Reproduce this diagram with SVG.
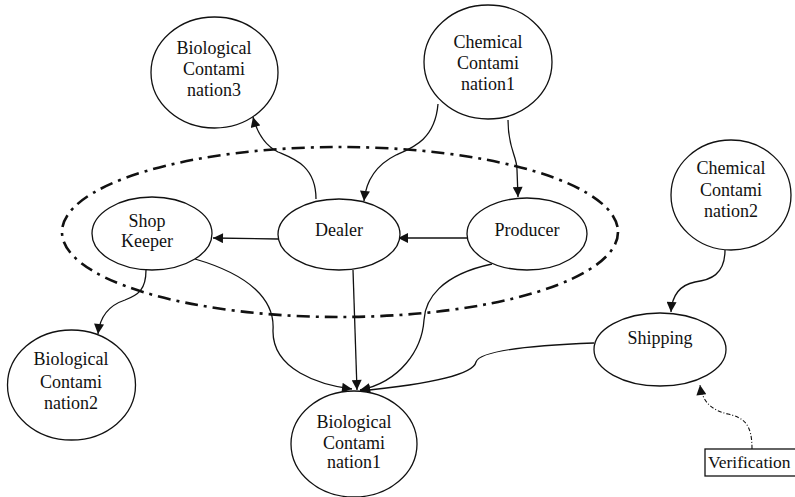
<svg xmlns="http://www.w3.org/2000/svg" width="795" height="497" viewBox="0 0 795 497">
<style>
.n{fill:#fff;stroke:#111;stroke-width:1.3}
.t{font-family:"Liberation Serif","Times New Roman",serif;font-size:18px;fill:#111;text-anchor:middle}
.c{fill:none;stroke:#111;stroke-width:1.3;marker-end:url(#ah)}
.group{fill:none;stroke:#111;stroke-width:2.6;stroke-dasharray:13 6 3 6}
</style>
<defs>
<marker id="ah" viewBox="0 0 10 10" refX="10" refY="5" markerWidth="11" markerHeight="10" markerUnits="userSpaceOnUse" orient="auto">
<path d="M0,0 L10,5 L0,10 z" fill="#111"/>
</marker>
</defs>
<rect width="795" height="497" fill="#fff"/>
<ellipse id="boundary" class="group" cx="340" cy="232" rx="278" ry="85"/>
<g id="connectors">
<path class="c" d="M316,199 C316,165 292,158 278,152 C264,145 257,132 253,117"/>
<path class="c" d="M438,104 C435,140 412,148 396,155 C376,165 366,180 364,201"/>
<path class="c" d="M508,120 C508,150 517,155 517,170 L518,197"/>
<path class="c" d="M278,239 L213,238"/>
<path class="c" d="M468,238 L398,238"/>
<path class="c" d="M146,270 C146,290 138,295 125,300 C110,305 100,315 98,334"/>
<path class="c" d="M195,259 C250,275 275,300 273,330 C272,370 320,385 352,389"/>
<path class="c" d="M353,270 L357,390"/>
<path class="c" d="M492,264 C440,275 425,300 424,320 C422,350 400,382 360,390"/>
<path class="c" d="M594,343 C540,345 480,350 476,362 C473,376 420,385 360,391"/>
<path class="c" d="M725,250 C725,275 710,280 695,282 C680,285 672,295 671,312"/>
<path class="c" style="stroke-width:1.1;stroke-dasharray:4 2 1 2" d="M752,449 C752,425 745,418 728,414 C710,410 702,400 700,385"/>
</g>
<g id="bc3"><ellipse class="n" cx="214.5" cy="72.5" rx="63.5" ry="55.5"/><text class="t" x="214" y="54">Biological</text><text class="t" x="214" y="75">Contami</text><text class="t" x="214" y="96">nation3</text></g>
<g id="chem1"><ellipse class="n" cx="488" cy="62" rx="64" ry="57"/><text class="t" x="488" y="48">Chemical</text><text class="t" x="488" y="69">Contami</text><text class="t" x="488" y="90">nation1</text></g>
<g id="chem2"><ellipse class="n" cx="731" cy="195" rx="60" ry="55"/><text class="t" x="731" y="174">Chemical</text><text class="t" x="731" y="196">Contami</text><text class="t" x="731" y="217">nation2</text></g>
<g id="shopkeeper"><ellipse class="n" cx="152" cy="233.5" rx="60" ry="36.5"/><text class="t" x="147" y="227">Shop</text><text class="t" x="147" y="247">Keeper</text></g>
<g id="dealer"><ellipse class="n" cx="339" cy="234.5" rx="61" ry="35.5"/><text class="t" x="339" y="236">Dealer</text></g>
<g id="producer"><ellipse class="n" cx="527" cy="234" rx="60" ry="36"/><text class="t" x="527" y="236">Producer</text></g>
<g id="shipping"><ellipse class="n" cx="660" cy="349.5" rx="66" ry="36.5"/><text class="t" x="660" y="344">Shipping</text></g>
<g id="bc2"><ellipse class="n" cx="71.5" cy="385" rx="64" ry="55"/><text class="t" x="71" y="365">Biological</text><text class="t" x="71" y="388">Contami</text><text class="t" x="71" y="409">nation2</text></g>
<g id="bc1"><ellipse class="n" cx="354" cy="444" rx="63" ry="53"/><text class="t" x="354" y="428">Biological</text><text class="t" x="354" y="449">Contami</text><text class="t" x="354" y="468">nation1</text></g>
<g id="verification"><rect class="n" x="705" y="449" width="100" height="27"/><text class="t" x="708" y="468" style="text-anchor:start;font-size:17.5px">Verification</text></g>
</svg>
